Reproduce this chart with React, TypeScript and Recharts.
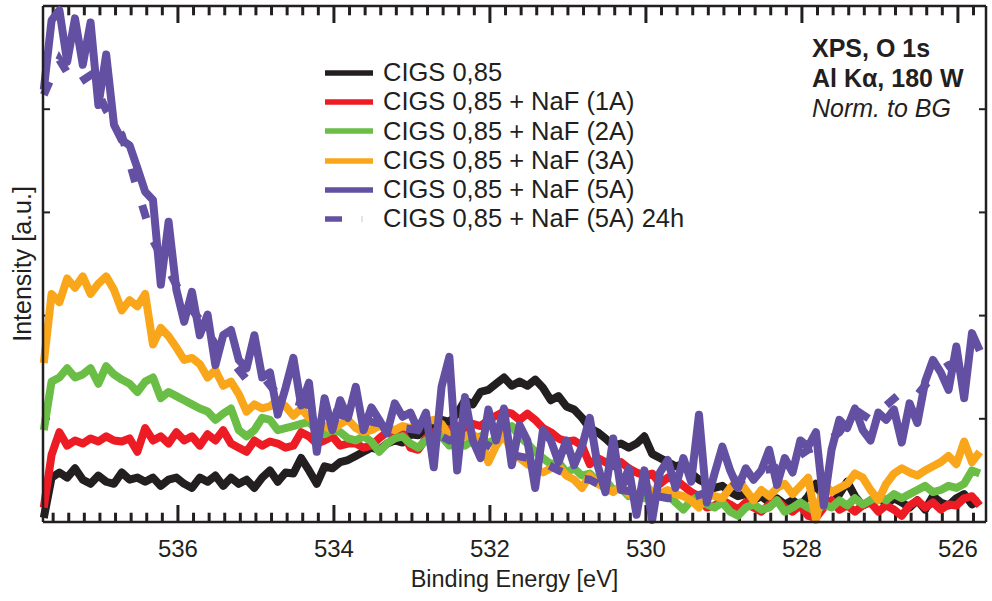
import React from "react";
import { LineChart, Line, XAxis, YAxis, ReferenceLine } from "recharts";

// measurement grid (binding energy, eV)
const START_EV = 537.72;
const STEP_EV = 0.1;
const STEP_EV_24H = 0.2;
const X_DOMAIN: [number, number] = [525.64, 537.73];
const Y_DOMAIN: [number, number] = [0, 5];

const X_MAJOR_TICKS = [526, 528, 530, 532, 534, 536];
const X_TICKS = [
  525.8, 526, 526.2, 526.4, 526.6, 526.8, 527, 527.2, 527.4, 527.6,
  527.8, 528, 528.2, 528.4, 528.6, 528.8, 529, 529.2, 529.4, 529.6,
  529.8, 530, 530.2, 530.4, 530.6, 530.8, 531, 531.2, 531.4, 531.6,
  531.8, 532, 532.2, 532.4, 532.6, 532.8, 533, 533.2, 533.4, 533.6,
  533.8, 534, 534.2, 534.4, 534.6, 534.8, 535, 535.2, 535.4, 535.6,
  535.8, 536, 536.2, 536.4, 536.6, 536.8, 537, 537.2, 537.4, 537.6,
];
const Y_TICKS = [1, 2, 3, 4];

const CIGS = [
  0.04, 0.43, 0.48, 0.43, 0.52, 0.41, 0.37, 0.45, 0.39, 0.37,
  0.48, 0.41, 0.43, 0.39, 0.43, 0.35, 0.41, 0.43, 0.37, 0.33,
  0.43, 0.39, 0.45, 0.35, 0.43, 0.37, 0.41, 0.33, 0.43, 0.5,
  0.39, 0.48, 0.47, 0.62, 0.5, 0.37, 0.54, 0.52, 0.58, 0.6,
  0.64, 0.68, 0.72, 0.7, 0.76, 0.79, 0.77, 0.85, 0.84, 0.91,
  0.93, 0.99, 0.97, 1.05, 1.18, 1.14, 1.26, 1.28, 1.34, 1.4,
  1.32, 1.36, 1.32, 1.38, 1.3, 1.18, 1.22, 1.12, 1.09, 1.01,
  0.91, 0.87, 0.81, 0.74, 0.76, 0.72, 0.76, 0.83, 0.66, 0.62,
  0.58, 0.54, 0.56, 0.47, 0.41, 0.37, 0.33, 0.35, 0.29, 0.25,
  0.27, 0.21, 0.25, 0.19, 0.23, 0.17, 0.21, 0.16, 0.25, 0.37,
  0.23, 0.16, 0.27, 0.39, 0.25, 0.16, 0.21, 0.25, 0.17, 0.23,
  0.19, 0.14, 0.21, 0.12, 0.25, 0.19, 0.16, 0.23, 0.27, 0.17,
  0.21,
];

const NAF_1A = [
  0.14, 0.65, 0.87, 0.74, 0.79, 0.76, 0.81, 0.78, 0.83, 0.79,
  0.78, 0.81, 0.68, 0.91, 0.79, 0.83, 0.76, 0.87, 0.79, 0.83,
  0.74, 0.85, 0.79, 0.89, 0.76, 0.72, 0.68, 0.79, 0.74, 0.78,
  0.76, 0.72, 0.74, 0.87, 0.83, 0.76, 0.79, 0.83, 0.74, 0.76,
  0.76, 0.72, 0.74, 0.81, 0.87, 0.83, 0.87, 0.72, 0.7, 0.81,
  0.87, 0.91, 0.89, 0.93, 0.91, 0.95, 0.93, 0.99, 1.03, 1.07,
  1.05, 0.99, 1.05, 0.99, 0.91, 0.87, 0.81, 0.78, 0.79, 0.74,
  0.56, 0.62, 0.58, 0.54, 0.58, 0.52, 0.48, 0.45, 0.47, 0.37,
  0.43, 0.41, 0.35, 0.29, 0.25, 0.14, 0.16, 0.21, 0.17, 0.12,
  0.19, 0.14, 0.1, 0.17, 0.21, 0.14, 0.1, 0.16, 0.06, 0.04,
  0.14, 0.21, 0.12, 0.16, 0.1, 0.16, 0.19, 0.1, 0.16, 0.12,
  0.06, 0.16, 0.21, 0.14, 0.19, 0.12, 0.17, 0.16, 0.23, 0.25,
  0.16,
];

const NAF_2A = [
  0.89, 1.36, 1.4, 1.49, 1.4, 1.43, 1.49, 1.34, 1.51, 1.43,
  1.38, 1.34, 1.26, 1.36, 1.4, 1.2, 1.26, 1.22, 1.18, 1.14,
  1.1, 1.07, 0.99, 1.05, 1.1, 0.89, 0.83, 0.89, 1.01, 0.99,
  0.89, 0.91, 0.93, 0.95, 0.97, 0.89, 0.85, 0.89, 0.87, 0.81,
  0.79, 0.83, 0.78, 0.68, 0.76, 0.81, 0.83, 0.76, 0.72, 0.79,
  0.81, 0.83, 0.74, 0.76, 0.74, 0.79, 0.83, 0.76, 0.81, 0.89,
  0.93, 0.83, 0.76, 0.68, 0.62, 0.56, 0.58, 0.48, 0.52, 0.45,
  0.47, 0.39, 0.41, 0.31, 0.33, 0.25, 0.27, 0.23, 0.29, 0.25,
  0.27, 0.19, 0.12, 0.21, 0.25, 0.17, 0.14, 0.19, 0.1, 0.06,
  0.14, 0.17, 0.12, 0.14, 0.21, 0.1, 0.14, 0.19, 0.14, 0.1,
  0.17, 0.14, 0.21, 0.16, 0.23, 0.17, 0.21, 0.25, 0.21, 0.27,
  0.23, 0.27, 0.31, 0.35, 0.29, 0.31, 0.35, 0.33, 0.37, 0.5,
  0.47,
];

const NAF_3A = [
  1.54, 2.21, 2.13, 2.36, 2.27, 2.38, 2.21, 2.31, 2.38, 2.25,
  2.05, 2.15, 2.09, 2.21, 1.72, 1.88, 1.8, 1.69, 1.57, 1.59,
  1.53, 1.4, 1.47, 1.32, 1.36, 1.24, 1.07, 1.14, 1.1, 1.12,
  1.18, 1.12, 1.03, 1.1, 1.01, 0.97, 0.93, 0.89, 0.95, 0.99,
  0.91, 0.87, 0.89, 0.93, 0.91, 0.89, 0.93, 0.91, 0.95, 0.97,
  0.99, 0.95, 0.83, 0.81, 0.83, 0.85, 0.79, 0.58, 0.74, 0.85,
  0.68, 0.62, 0.56, 0.52, 0.48, 0.52, 0.54, 0.45, 0.41, 0.33,
  0.45, 0.37, 0.33, 0.29, 0.35, 0.27, 0.23, 0.37, 0.29, 0.27,
  0.31, 0.27, 0.25, 0.21, 0.14, 0.27, 0.25, 0.23, 0.33, 0.41,
  0.31, 0.21, 0.31, 0.25, 0.33, 0.37, 0.27, 0.35, 0.43, 0.02,
  0.37, 0.29, 0.33, 0.37, 0.47, 0.43, 0.31, 0.21, 0.37, 0.47,
  0.52, 0.48, 0.45, 0.5, 0.54, 0.58, 0.64, 0.56, 0.78, 0.58,
  0.68,
];

const NAF_5A = [
  4.19, 4.86, 4.96, 4.46, 4.88, 4.43, 4.84, 4.04, 4.53, 3.85,
  3.7, 3.65, 3.43, 3.2, 3.12, 2.3, 2.91, 2.25, 1.94, 2.23,
  1.81, 2.01, 1.52, 1.81, 1.86, 1.57, 1.49, 1.81, 1.4, 1.45,
  1.04, 1.3, 1.59, 1.13, 1.35, 0.68, 1.2, 0.89, 1.18, 1.01,
  1.31, 0.89, 1.11, 0.99, 0.86, 1.15, 1.02, 1.06, 0.89, 1.06,
  0.53, 1.31, 1.6, 0.5, 1.21, 0.79, 0.62, 1.09, 0.79, 1.1,
  0.55, 0.94, 0.79, 0.33, 0.89, 0.79, 0.58, 0.79, 0.55, 0.73,
  1.01, 0.55, 0.29, 0.81, 0.31, 0.52, 0.07, 0.5, 0.02, 0.48,
  0.6, 0.33, 0.62, 0.39, 1.04, 0.19, 0.47, 0.73, 0.5, 0.33,
  0.52, 0.41, 0.5, 0.7, 0.36, 0.62, 0.48, 0.79, 0.73, 0.87,
  0.16, 0.7, 0.99, 0.91, 1.1, 0.89, 0.79, 1.06, 0.99, 1.09,
  0.77, 1.15, 0.96, 1.36, 1.57, 1.45, 1.28, 1.7, 1.2, 1.83,
  1.66,
];

// 24h re-measurement, coarser grid
const NAF_5A_24H = [
  4.14, 4.48, 4.23, 4.33, 3.99, 3.75, 3.22, 2.73, 2.44, 2.15,
  1.96, 1.72, 1.57, 1.38, 1.42, 1.23, 1.18, 1.13, 1.09, 1.04,
  0.99, 0.97, 0.94, 0.91, 0.89, 0.87, 0.79, 0.84, 0.78, 0.7,
  0.65, 0.62, 0.58, 0.5, 0.43, 0.41, 0.33, 0.31, 0.29, 0.26,
  0.23, 0.23, 0.26, 0.31, 0.33, 0.43, 0.5, 0.52, 0.6, 0.7,
  0.75, 0.87, 1.09, 0.99, 1.13, 1.26, 1.23, 1.42, 1.52, 1.57,
  1.62,
];

const SERIES = [
  { key: "cigs", name: "CIGS 0,85", color: "#231f20", values: CIGS },
  { key: "naf1", name: "CIGS 0,85 + NaF (1A)", color: "#ed1c24", values: NAF_1A },
  { key: "naf2", name: "CIGS 0,85 + NaF (2A)", color: "#6abd45", values: NAF_2A },
  { key: "naf3", name: "CIGS 0,85 + NaF (3A)", color: "#faa61a", values: NAF_3A },
  { key: "naf5", name: "CIGS 0,85 + NaF (5A)", color: "#6350a2", values: NAF_5A },
];
const NAME_24H = "CIGS 0,85 + NaF (5A) 24h";
const PURPLE = "#6350a2";

const INK = "#231f20";
const FONT = "'Liberation Sans', Arial, Helvetica, sans-serif";
const LINE_W = 8;

const rows = CIGS.map((_, i) => {
  const row: any = { ev: +(START_EV - i * STEP_EV).toFixed(2) };
  SERIES.forEach((s) => (row[s.key] = s.values[i]));
  return row;
});
const rows24h = NAF_5A_24H.map((v, i) => ({
  ev: +(START_EV - i * STEP_EV_24H).toFixed(2),
  naf5d: v,
}));

const isMajor = (v: number) => X_MAJOR_TICKS.some((m) => Math.abs(m - v) < 1e-6);

// inward tick lengths, in data units
const X_TICK_MAJOR = 0.165;
const X_TICK_MINOR = 0.09;
const Y_TICK = 0.09;

const BottomLabel = ({ x, y, payload }: any) =>
  isMajor(payload.value) ? (
    <text x={x} y={y + 35} textAnchor="middle" fontSize={24} fill={INK} fontFamily={FONT}>
      {payload.value}
    </text>
  ) : (
    <g />
  );

const seg = (key: string, x1: number, y1: number, x2: number, y2: number, w: number) => (
  <ReferenceLine
    key={key}
    xAxisId="b"
    yAxisId="l"
    segment={[
      { x: x1, y: y1 },
      { x: x2, y: y2 },
    ]}
    stroke={INK}
    strokeWidth={w}
    ifOverflow="visible"
  />
);

export default function App() {
  return (
    <div style={{ position: "absolute", left: 0, top: 0, width: 992, height: 601, background: "#fff" }}>
      <LineChart width={992} height={601} data={rows} margin={{ top: 6, right: 6, bottom: 0, left: 0 }}>
        <XAxis
          xAxisId="b"
          dataKey="ev"
          type="number"
          domain={X_DOMAIN}
          reversed
          ticks={X_TICKS}
          interval={0}
          tick={<BottomLabel />}
          tickSize={0}
          tickMargin={0}
          tickLine={false}
          height={79}
          stroke={INK}
          axisLine={{ stroke: INK, strokeWidth: 2.5 }}
          label={{
            value: "Binding Energy [eV]",
            position: "insideBottom",
            offset: 14,
            fill: INK,
            fontSize: 23.5,
            fontFamily: FONT,
          }}
        />
        <YAxis
          yAxisId="l"
          type="number"
          domain={Y_DOMAIN}
          ticks={Y_TICKS}
          tick={false}
          tickLine={false}
          width={43}
          stroke={INK}
          axisLine={{ stroke: INK, strokeWidth: 2.5 }}
          label={{
            value: "Intensity [a.u.]",
            angle: -90,
            position: "center",
            dx: 1,
            fill: INK,
            fontSize: 25,
            fontFamily: FONT,
          }}
        />

        {/* frame: top and right edges */}
        <ReferenceLine xAxisId="b" yAxisId="l" y={Y_DOMAIN[1]} stroke={INK} strokeWidth={2.5} />
        <ReferenceLine xAxisId="b" yAxisId="l" x={X_DOMAIN[0]} stroke={INK} strokeWidth={2.5} />

        {/* inward energy ticks, bottom and top */}
        {X_TICKS.map((t) => {
          const len = isMajor(t) ? X_TICK_MAJOR : X_TICK_MINOR;
          return seg("b" + t, t, Y_DOMAIN[0], t, Y_DOMAIN[0] + len, 3);
        })}
        {X_TICKS.map((t) => {
          const len = isMajor(t) ? X_TICK_MAJOR : X_TICK_MINOR;
          return seg("t" + t, t, Y_DOMAIN[1], t, Y_DOMAIN[1] - len, 3);
        })}

        {/* inward intensity ticks, left and right */}
        {Y_TICKS.map((v) => seg("l" + v, X_DOMAIN[1], v, X_DOMAIN[1] - Y_TICK, v, 2))}
        {Y_TICKS.map((v) => seg("r" + v, X_DOMAIN[0], v, X_DOMAIN[0] + Y_TICK, v, 2))}

        {SERIES.slice(0, 4).map((s) => (
          <Line
            key={s.key}
            xAxisId="b"
            yAxisId="l"
            dataKey={s.key}
            name={s.name}
            type="linear"
            stroke={s.color}
            strokeWidth={LINE_W}
            strokeLinejoin="round"
            dot={false}
            isAnimationActive={false}
          />
        ))}
        <Line
          xAxisId="b"
          yAxisId="l"
          data={rows24h}
          dataKey="naf5d"
          name={NAME_24H}
          type="linear"
          stroke={PURPLE}
          strokeWidth={LINE_W}
          strokeDasharray="14 24"
          dot={false}
          isAnimationActive={false}
        />
        <Line
          xAxisId="b"
          yAxisId="l"
          dataKey="naf5"
          name={SERIES[4].name}
          type="linear"
          stroke={PURPLE}
          strokeWidth={LINE_W}
          strokeLinejoin="round"
          dot={false}
          isAnimationActive={false}
        />
      </LineChart>

      {/* legend */}
      <div
        style={{
          position: "absolute",
          left: 325,
          top: 58,
          fontFamily: FONT,
          fontSize: 25.5,
          color: INK,
        }}
      >
        {SERIES.map((s) => (
          <div key={s.key} style={{ display: "flex", alignItems: "center", height: 29.3 }}>
            <svg width={48} height={10} style={{ marginRight: 10 }}>
              <line x1={0} x2={48} y1={5} y2={5} stroke={s.color} strokeWidth={5.5} />
            </svg>
            <span style={{ lineHeight: "29.3px", whiteSpace: "nowrap" }}>{s.name}</span>
          </div>
        ))}
        <div style={{ display: "flex", alignItems: "center", height: 29.3 }}>
          <svg width={48} height={10} style={{ marginRight: 10 }}>
            <line x1={0} x2={17} y1={5} y2={5} stroke={PURPLE} strokeWidth={5.5} />
            <line x1={37} x2={37} y1={2} y2={8} stroke="#c9c4e2" strokeWidth={1} />
          </svg>
          <span style={{ lineHeight: "29.3px", whiteSpace: "nowrap" }}>{NAME_24H}</span>
        </div>
      </div>

      {/* measurement note */}
      <div
        style={{
          position: "absolute",
          left: 812,
          top: 33,
          fontFamily: FONT,
          fontSize: 25,
          lineHeight: "30px",
          color: INK,
          whiteSpace: "nowrap",
        }}
      >
        <div style={{ fontWeight: "bold" }}>XPS, O 1s</div>
        <div style={{ fontWeight: "bold" }}>Al Kα, 180 W</div>
        <div style={{ fontStyle: "italic" }}>Norm. to BG</div>
      </div>
    </div>
  );
}
